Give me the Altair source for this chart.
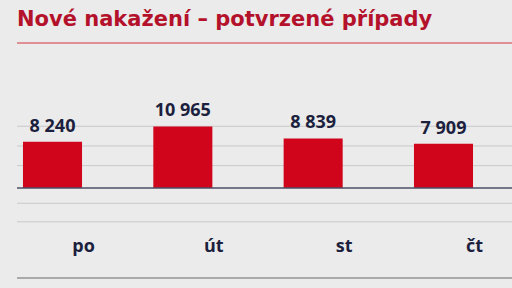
import altair as alt
import pandas as pd

days = ["po", "út", "st", "čt"]
cases = [8240, 10965, 8839, 7909]
title_text = "Nové nakažení – potvrzené případy"
grid_values = [11000, 7500, 4000, -2700, -6000]
base_value = [0]
bottom_value = [-16000]

df = pd.DataFrame({
    "day": days,
    "cases": cases,
    "label": [f"{v:,}".replace(",", " ") for v in cases],
})
grid_df = pd.DataFrame({"v": grid_values})
base_df = pd.DataFrame({"v": base_value})
bottom_df = pd.DataFrame({"v": bottom_value})

yscale = alt.Scale(domain=[-16000, 26000], nice=False, zero=False)
xscale = alt.Scale(domain=days, paddingInner=0.547, paddingOuter=0.1725, align=0.133)

W, H = 495, 236

grid = alt.Chart(grid_df).mark_rule(color="#c9c9cc", strokeWidth=1).encode(
    y=alt.Y("v:Q", scale=yscale, axis=None),
    x=alt.value(0), x2=alt.value(W),
)
bottom = alt.Chart(bottom_df).mark_rule(color="#a9a9ab", strokeWidth=2).encode(
    y=alt.Y("v:Q", scale=yscale, axis=None),
    x=alt.value(0), x2=alt.value(W),
)
title_line = alt.Chart(base_df).mark_rule(color="#d4333f", strokeWidth=1).encode(
    y=alt.value(1), x=alt.value(0), x2=alt.value(W),
)

bars = alt.Chart(df).mark_bar(color="#d0051c").encode(
    x=alt.X("day:N", scale=xscale, axis=None, sort=days),
    y=alt.Y("cases:Q", scale=yscale, axis=None),
    y2=alt.datum(0),
)
base = alt.Chart(base_df).mark_rule(color="#4c4f66", strokeWidth=1.5).encode(
    y=alt.Y("v:Q", scale=yscale, axis=None),
    x=alt.value(0), x2=alt.value(W),
)
values = alt.Chart(df).mark_text(
    font="Open Sans", fontWeight="bold", fontSize=18, color="#1c1f3d",
    baseline="alphabetic", dy=-10,
).encode(
    x=alt.X("day:N", scale=xscale, axis=None, sort=days),
    y=alt.Y("cases:Q", scale=yscale, axis=None),
    text="label:N",
)
day_labels = alt.Chart(df).mark_text(
    font="Open Sans", fontWeight="bold", fontSize=18, color="#1c1f3d",
    baseline="middle", dx=31,
).encode(
    x=alt.X("day:N", scale=xscale, axis=None, sort=days),
    y=alt.value(205),
    text="day:N",
)

chart = alt.layer(grid, bottom, title_line, bars, base, values, day_labels).properties(
    width=W, height=H,
    autosize=alt.AutoSizeParams(type="none"),
    padding={"left": 17, "top": 42, "right": 0, "bottom": 10},
    background="#ebebeb",
    title=alt.TitleParams(
        title_text, anchor="start", frame="group", font="DejaVu Sans",
        fontWeight="bold", fontSize=21, color="#b4112b",
        baseline="alphabetic", offset=14, dy=19,
    ),
).configure_view(stroke=None)

chart.save("out.html", embed_options={"renderer": "svg", "actions": False})
